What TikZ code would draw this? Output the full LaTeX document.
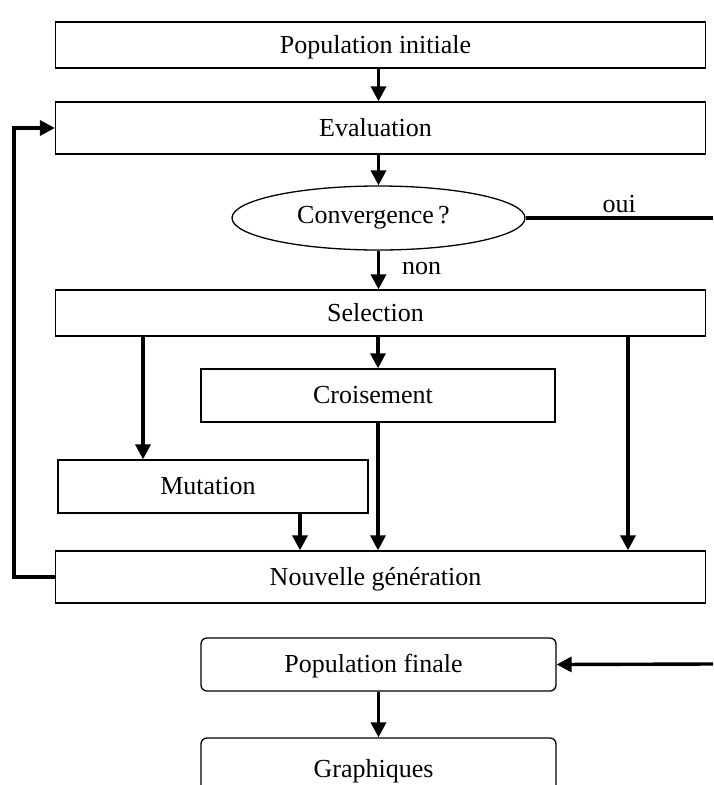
\documentclass[tikz,border=0pt]{standalone}
\usepackage{fontspec}
\setmainfont{Liberation Serif}
\usetikzlibrary{shapes.geometric,arrows.meta}
\begin{document}
\begin{tikzpicture}[x=1pt,y=-1pt,
  every node/.style={font=\fontsize{26}{30}\selectfont, inner sep=0pt},
  lshift/.style={execute at end node={\kern10pt}},
  box/.style={draw, line width=1.3pt, rectangle, text height=21pt, text depth=5pt, lshift},
  rbox/.style={draw, line width=1.3pt, rectangle, rounded corners=6pt, text height=21pt, text depth=5pt, lshift},
  conn/.style={line width=3.4pt},
  arr/.style={line width=3.4pt, -{Triangle[length=15pt,width=15pt]}},
]
\useasboundingbox (0,0) rectangle (713,785);
\node[box, minimum width=650pt, minimum height=46pt] (pinit) at (380.5,45) {Population initiale};
\node[box, minimum width=650pt, minimum height=52pt] (eval) at (380.5,128) {Evaluation};
\node[draw, line width=1.3pt, ellipse, minimum width=293pt, minimum height=64pt, lshift] (conv) at (378.5,218) {Convergence\,?};
\node[box, minimum width=650pt, minimum height=46pt] (sel) at (380.5,313) {Selection};
\node[box, minimum width=354pt, minimum height=53pt] (crois) at (378,395.5) {Croisement};
\node[box, minimum width=310pt, minimum height=53pt] (mut) at (213,486.5) {Mutation};
\node[box, minimum width=650pt, minimum height=52pt] (nouv) at (380.5,577) {Nouvelle génération};
\node[rbox, minimum width=355pt, minimum height=53pt] (pfin) at (378.5,664.5) {Population finale};
\node[rbox, minimum width=355pt, minimum height=62pt] (graph) at (378.5,769) {Graphiques};

\coordinate (ouiend) at (713,218);
\coordinate (finin) at (713,664);
\coordinate (xmut) at (143,0);
\coordinate (xmn) at (300,0);
\coordinate (xsn) at (628,0);
\coordinate (xloop) at (14,0);

\draw[arr] (pinit.south -| conv) -- (eval.north -| conv);
\draw[arr] (eval.south -| conv) -- (conv.north);
\draw[arr] (conv.south) -- node[right=22pt, pos=0.45] (non) {non} (sel.north -| conv);
\draw[conn] (conv.east) -- node[above=4pt, pos=0.5] (oui) {oui} (ouiend);
\draw[arr] (sel.south -| crois) -- (crois.north);
\draw[arr] (sel.south -| xmut) -- (mut.north -| xmut);
\draw[arr] (mut.south -| xmn) -- (nouv.north -| xmn);
\draw[arr] (crois.south) -- (nouv.north -| crois);
\draw[arr] (sel.south -| xsn) -- (nouv.north -| xsn);
\draw[arr] (nouv.west) -- (nouv.west -| xloop) |- (eval.west);
\draw[arr] (finin) -- (pfin.east);
\draw[arr] (pfin.south) -- (graph.north);
\end{tikzpicture}
\end{document}
